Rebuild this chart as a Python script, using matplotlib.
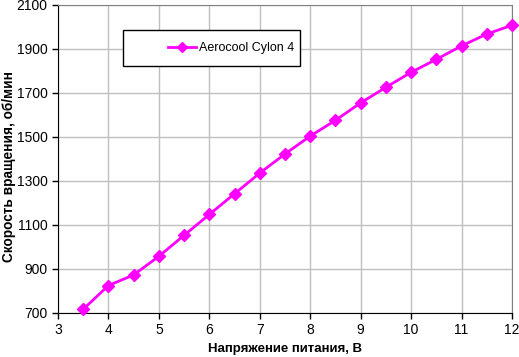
import matplotlib
matplotlib.use("Agg")
import matplotlib.pyplot as plt
from matplotlib.patches import Rectangle
from matplotlib.lines import Line2D

voltage = [3.5, 4, 4.5, 5, 5.5, 6, 6.5, 7, 7.5, 8, 8.5, 9, 9.5, 10, 10.5, 11, 11.5, 12]
rpm = [717, 825, 873, 958, 1053, 1148, 1242, 1336, 1423, 1504, 1576, 1655, 1726, 1794, 1853, 1914, 1968, 2008]
series_name = "Aerocool Cylon 4"
xticks = [3, 4, 5, 6, 7, 8, 9, 10, 11, 12]
yticks = [700, 900, 1100, 1300, 1500, 1700, 1900, 2100]

plt.rcParams['font.family'] = ['Liberation Sans', 'DejaVu Sans']

W, H = 519, 357
AX_L, AX_R, AX_T, AX_B = 58, 512, 5, 313
fig = plt.figure(figsize=(W / 100, H / 100), dpi=100)
ax = fig.add_axes([AX_L / W, 1 - AX_B / H, (AX_R - AX_L) / W, (AX_B - AX_T) / H])

color = '#FF00FF'
ax.plot(voltage, rpm, color=color, lw=2, marker='D', markersize=6,
        markerfacecolor=color, markeredgecolor=color, label=series_name, zorder=3,
        clip_on=False)

ax.set_xlim(3, 12)
ax.set_ylim(700, 2100)
ax.set_xticks(xticks)
ax.set_yticks(yticks)
ax.grid(True, color='#C0C0C0', lw=1)
ax.set_axisbelow(True)
for s in ['top', 'right']:
    ax.spines[s].set_color('#808080')
for s in ['left', 'bottom']:
    ax.spines[s].set_color('black')
ax.tick_params(axis='both', labelsize=10, direction='out', length=4, width=1, color='black')

ax.set_xlabel("Напряжение питания, В", fontsize=9.5, fontweight='bold')
ax.set_ylabel("Скорость вращения, об/мин", fontsize=9.8, fontweight='bold')
aw, ah = AX_R - AX_L, AX_B - AX_T
ax.xaxis.set_label_coords(0.5, -(343 - AX_B) / ah)
ax.yaxis.set_label_coords(-(AX_L - 16) / aw, (AX_B - 166) / ah)

# legend box
fig.patches.append(Rectangle((123 / W, 1 - 66 / H), (300 - 123) / W, (66 - 30) / H,
                             transform=fig.transFigure, facecolor='white',
                             edgecolor='black', lw=1, zorder=5))
handle = Line2D([], [], color=color, lw=2, marker='D', markersize=5,
                markerfacecolor=color, markeredgecolor=color)
leg = fig.legend([handle], [series_name], loc='center left',
                 bbox_to_anchor=(168 / W, 1 - 48 / H), fontsize=9, frameon=False,
                 handlelength=2.2, handletextpad=0.25, borderpad=0, borderaxespad=0)
leg.set_zorder(6)

fig.savefig("out.png", dpi=100, facecolor='white')
